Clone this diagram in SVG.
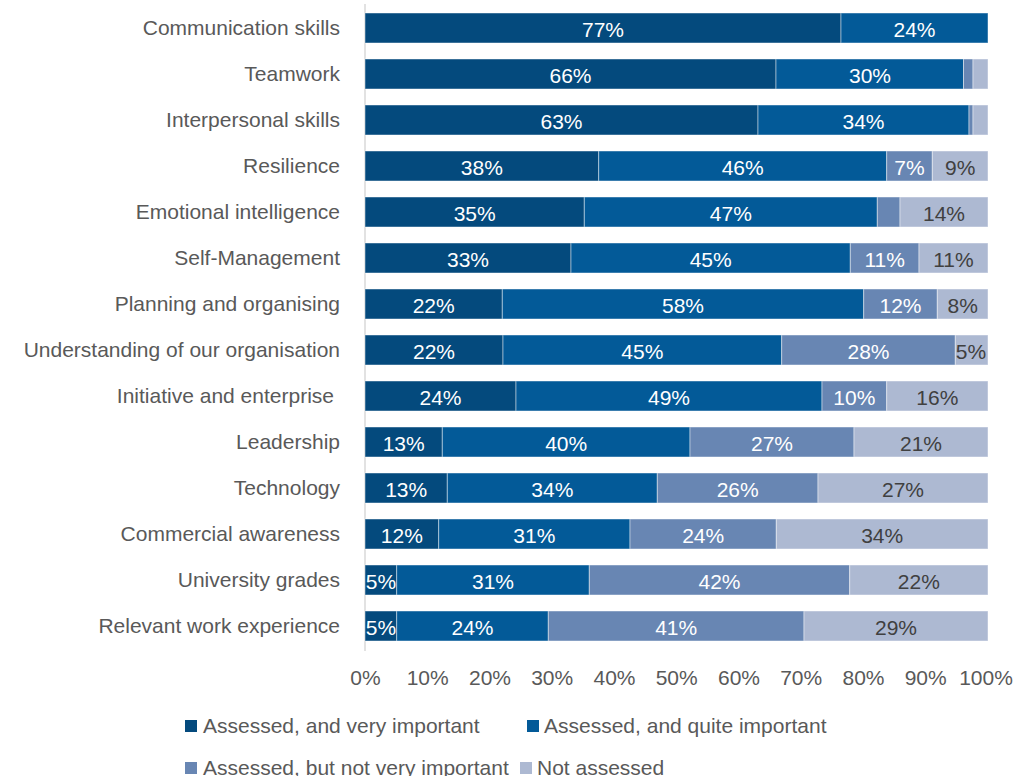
<svg xmlns="http://www.w3.org/2000/svg" width="1014" height="776" viewBox="0 0 1014 776">
<style>
text{font-family:"Liberation Sans",Arial,sans-serif;font-size:21px}
.cat{fill:#595959;text-anchor:end}
.ax{fill:#595959;text-anchor:middle}
.v{text-anchor:middle;fill:#ffffff}
.vd{text-anchor:middle;fill:#404040}
.lg{fill:#595959}
.s1{fill:#044a7d}
.s2{fill:#035a98}
.s3{fill:#6886b3}
.s4{fill:#adb9d2}
rect.seg{stroke:#ffffff;stroke-opacity:0.45;stroke-width:1}
</style>
<rect width="1014" height="776" fill="#ffffff"/>
<g id="axis">
<line x1="365" y1="4" x2="365" y2="651" stroke="#d9d9d9" stroke-width="1.5"/>
<text class="ax" x="365.5" y="685">0%</text>
<text class="ax" x="427.7" y="685">10%</text>
<text class="ax" x="490" y="685">20%</text>
<text class="ax" x="552.2" y="685">30%</text>
<text class="ax" x="614.5" y="685">40%</text>
<text class="ax" x="676.7" y="685">50%</text>
<text class="ax" x="739" y="685">60%</text>
<text class="ax" x="801.2" y="685">70%</text>
<text class="ax" x="863.5" y="685">80%</text>
<text class="ax" x="925.7" y="685">90%</text>
<text class="ax" x="986" y="685">100%</text>
</g>
<g id="row-communication">
<text class="cat" x="340" y="35">Communication skills</text>
<rect class="seg s1" x="365" y="13" width="476" height="30"/>
<rect class="seg s2" x="841" y="13" width="147" height="30"/>
<text class="v" x="603" y="37">77%</text>
<text class="v" x="914.5" y="37">24%</text>
</g>
<g id="row-teamwork">
<text class="cat" x="340" y="81">Teamwork</text>
<rect class="seg s1" x="365" y="59" width="411" height="30"/>
<rect class="seg s2" x="776" y="59" width="187.5" height="30"/>
<rect class="seg s3" x="963.5" y="59" width="9.5" height="30"/>
<rect class="seg s4" x="973" y="59" width="15" height="30"/>
<text class="v" x="570.5" y="83">66%</text>
<text class="v" x="870" y="83">30%</text>
</g>
<g id="row-interpersonal">
<text class="cat" x="340" y="127">Interpersonal skills</text>
<rect class="seg s1" x="365" y="105" width="393" height="30"/>
<rect class="seg s2" x="758" y="105" width="211" height="30"/>
<rect class="seg s3" x="969" y="105" width="4" height="30"/>
<rect class="seg s4" x="973" y="105" width="15" height="30"/>
<text class="v" x="561.5" y="129">63%</text>
<text class="v" x="863.5" y="129">34%</text>
</g>
<g id="row-resilience">
<text class="cat" x="340" y="173">Resilience</text>
<rect class="seg s1" x="365" y="151" width="233.7" height="30"/>
<rect class="seg s2" x="598.7" y="151" width="288" height="30"/>
<rect class="seg s3" x="886.7" y="151" width="45.6" height="30"/>
<rect class="seg s4" x="932.3" y="151" width="55.7" height="30"/>
<text class="v" x="481.8" y="175">38%</text>
<text class="v" x="742.7" y="175">46%</text>
<text class="v" x="909.5" y="175">7%</text>
<text class="vd" x="960.2" y="175">9%</text>
</g>
<g id="row-emotional">
<text class="cat" x="340" y="219">Emotional intelligence</text>
<rect class="seg s1" x="365" y="197" width="219.3" height="30"/>
<rect class="seg s2" x="584.3" y="197" width="293" height="30"/>
<rect class="seg s3" x="877.3" y="197" width="22.7" height="30"/>
<rect class="seg s4" x="900" y="197" width="88" height="30"/>
<text class="v" x="474.7" y="221">35%</text>
<text class="v" x="730.8" y="221">47%</text>
<text class="vd" x="944" y="221">14%</text>
</g>
<g id="row-selfmanagement">
<text class="cat" x="340" y="265">Self-Management</text>
<rect class="seg s1" x="365" y="243" width="206" height="30"/>
<rect class="seg s2" x="571" y="243" width="279.3" height="30"/>
<rect class="seg s3" x="850.3" y="243" width="68.7" height="30"/>
<rect class="seg s4" x="919" y="243" width="69" height="30"/>
<text class="v" x="468" y="267">33%</text>
<text class="v" x="710.7" y="267">45%</text>
<text class="v" x="884.7" y="267">11%</text>
<text class="vd" x="953.5" y="267">11%</text>
</g>
<g id="row-planning">
<text class="cat" x="340" y="311">Planning and organising</text>
<rect class="seg s1" x="365" y="289" width="137.3" height="30"/>
<rect class="seg s2" x="502.3" y="289" width="361.4" height="30"/>
<rect class="seg s3" x="863.7" y="289" width="73.6" height="30"/>
<rect class="seg s4" x="937.3" y="289" width="50.7" height="30"/>
<text class="v" x="433.7" y="313">22%</text>
<text class="v" x="683" y="313">58%</text>
<text class="v" x="900.5" y="313">12%</text>
<text class="vd" x="962.7" y="313">8%</text>
</g>
<g id="row-understanding">
<text class="cat" x="340" y="357">Understanding of our organisation</text>
<rect class="seg s1" x="365" y="335" width="138" height="30"/>
<rect class="seg s2" x="503" y="335" width="278.7" height="30"/>
<rect class="seg s3" x="781.7" y="335" width="173.6" height="30"/>
<rect class="seg s4" x="955.3" y="335" width="32.7" height="30"/>
<text class="v" x="434" y="359">22%</text>
<text class="v" x="642.3" y="359">45%</text>
<text class="v" x="868.5" y="359">28%</text>
<text class="vd" x="971" y="359">5%</text>
</g>
<g id="row-initiative">
<text class="cat" x="334" y="403">Initiative and enterprise</text>
<rect class="seg s1" x="365" y="381" width="151" height="30"/>
<rect class="seg s2" x="516" y="381" width="306" height="30"/>
<rect class="seg s3" x="822" y="381" width="64.7" height="30"/>
<rect class="seg s4" x="886.7" y="381" width="101.3" height="30"/>
<text class="v" x="440.5" y="405">24%</text>
<text class="v" x="669" y="405">49%</text>
<text class="v" x="854.3" y="405">10%</text>
<text class="vd" x="937.3" y="405">16%</text>
</g>
<g id="row-leadership">
<text class="cat" x="340" y="449">Leadership</text>
<rect class="seg s1" x="365" y="427" width="77.3" height="30"/>
<rect class="seg s2" x="442.3" y="427" width="247.7" height="30"/>
<rect class="seg s3" x="690" y="427" width="164" height="30"/>
<rect class="seg s4" x="854" y="427" width="134" height="30"/>
<text class="v" x="403.7" y="451">13%</text>
<text class="v" x="566.2" y="451">40%</text>
<text class="v" x="772" y="451">27%</text>
<text class="vd" x="921" y="451">21%</text>
</g>
<g id="row-technology">
<text class="cat" x="340" y="495">Technology</text>
<rect class="seg s1" x="365" y="473" width="82.3" height="30"/>
<rect class="seg s2" x="447.3" y="473" width="210" height="30"/>
<rect class="seg s3" x="657.3" y="473" width="160.7" height="30"/>
<rect class="seg s4" x="818" y="473" width="170" height="30"/>
<text class="v" x="406.2" y="497">13%</text>
<text class="v" x="552.3" y="497">34%</text>
<text class="v" x="737.7" y="497">26%</text>
<text class="vd" x="903" y="497">27%</text>
</g>
<g id="row-commercial">
<text class="cat" x="340" y="541">Commercial awareness</text>
<rect class="seg s1" x="365" y="519" width="73.7" height="30"/>
<rect class="seg s2" x="438.7" y="519" width="191.3" height="30"/>
<rect class="seg s3" x="630" y="519" width="146.3" height="30"/>
<rect class="seg s4" x="776.3" y="519" width="211.7" height="30"/>
<text class="v" x="401.8" y="543">12%</text>
<text class="v" x="534.3" y="543">31%</text>
<text class="v" x="703.2" y="543">24%</text>
<text class="vd" x="882.2" y="543">34%</text>
</g>
<g id="row-university">
<text class="cat" x="340" y="587">University grades</text>
<rect class="seg s1" x="365" y="565" width="31.7" height="30"/>
<rect class="seg s2" x="396.7" y="565" width="192.6" height="30"/>
<rect class="seg s3" x="589.3" y="565" width="260.4" height="30"/>
<rect class="seg s4" x="849.7" y="565" width="138.3" height="30"/>
<text class="v" x="381" y="589">5%</text>
<text class="v" x="493" y="589">31%</text>
<text class="v" x="719.5" y="589">42%</text>
<text class="vd" x="918.8" y="589">22%</text>
</g>
<g id="row-experience">
<text class="cat" x="340" y="633">Relevant work experience</text>
<rect class="seg s1" x="365" y="611" width="31.7" height="30"/>
<rect class="seg s2" x="396.7" y="611" width="151.6" height="30"/>
<rect class="seg s3" x="548.3" y="611" width="255.7" height="30"/>
<rect class="seg s4" x="804" y="611" width="184" height="30"/>
<text class="v" x="381" y="635">5%</text>
<text class="v" x="472.5" y="635">24%</text>
<text class="v" x="676.2" y="635">41%</text>
<text class="vd" x="896" y="635">29%</text>
</g>
<g id="legend">
<rect class="s1" x="185" y="720" width="12" height="12"/>
<text class="lg" x="203" y="733">Assessed, and very important</text>
<rect class="s2" x="527" y="720" width="12" height="12"/>
<text class="lg" x="544" y="733">Assessed, and quite important</text>
<rect class="s3" x="185" y="762" width="12" height="12"/>
<text class="lg" x="203" y="775">Assessed, but not very important</text>
<rect class="s4" x="520" y="762" width="12" height="12"/>
<text class="lg" x="537" y="775">Not assessed</text>
</g>
</svg>
